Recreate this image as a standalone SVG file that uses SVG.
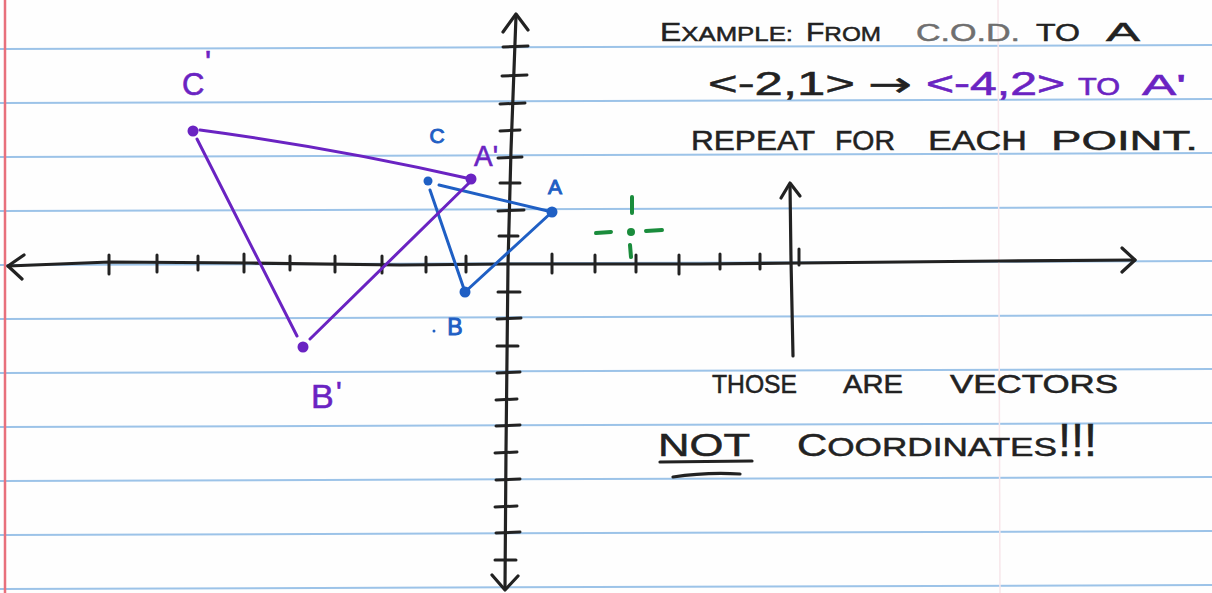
<svg xmlns="http://www.w3.org/2000/svg" width="1212" height="593" viewBox="0 0 1212 593">
<style>
.rule{stroke:#9cc3e8;stroke-width:2;fill:none}
.ink{stroke:#222;stroke-width:3.2;fill:none;stroke-linecap:round;stroke-linejoin:round}
.tick{stroke:#222;stroke-width:3;stroke-linecap:round}
.blue{stroke:#1f5fc4;stroke-width:3;fill:none;stroke-linecap:round}
.purple{stroke:#6a23c2;stroke-width:3;fill:none;stroke-linecap:round}
.green{stroke:#1a8c3c;stroke-width:4;fill:none;stroke-linecap:round}
.txt{font-family:"Liberation Sans","DejaVu Sans",sans-serif;fill:#222;stroke:#222;stroke-width:0.5}
.ptxt{font-family:"Liberation Sans","DejaVu Sans",sans-serif;fill:#6a23c2;stroke:#6a23c2;stroke-width:0.6}
.btxt{font-family:"Liberation Sans","DejaVu Sans",sans-serif;fill:#1f5fc4;stroke:#1f5fc4;stroke-width:1}
</style>
<g id="paper">
<rect width="1212" height="593" fill="#fefefe"/>
<line class="rule" x1="0" y1="49" x2="1212" y2="45"/>
<line class="rule" x1="0" y1="103" x2="1212" y2="99"/>
<line class="rule" x1="0" y1="157" x2="1212" y2="153"/>
<line class="rule" x1="0" y1="211" x2="1212" y2="207"/>
<line class="rule" x1="0" y1="265" x2="1212" y2="261"/>
<line class="rule" x1="0" y1="319" x2="1212" y2="315"/>
<line class="rule" x1="0" y1="373" x2="1212" y2="369"/>
<line class="rule" x1="0" y1="427" x2="1212" y2="423"/>
<line class="rule" x1="0" y1="481" x2="1212" y2="477"/>
<line class="rule" x1="0" y1="535" x2="1212" y2="531"/>
<line class="rule" x1="0" y1="589" x2="1212" y2="585"/>
<line x1="998" y1="0" x2="1000" y2="593" stroke="#f7e6ea" stroke-width="1.5"/>
<line x1="5" y1="0" x2="5" y2="593" stroke="#e8707c" stroke-width="2.5"/>
</g>
<g id="axes">
<path class="ink" d="M8,266 L110,262 L250,263 L400,265 L508,264 L700,264 L800,263 L1000,261 L1135,260"/>
<path class="ink" d="M24,255 L8,266 L22,279"/>
<path class="ink" d="M1122,248 L1135,260 L1122,272"/>
<path class="ink" d="M516,16 L511,150 L508,264 L506,450 L505,588"/>
<path class="ink" d="M503,32 L516,14 L528,30"/>
<path class="ink" d="M492,575 L505,590 L518,576"/>
<g id="x-ticks">
<line class="tick" x1="109" y1="255" x2="109" y2="274"/>
<line class="tick" x1="157" y1="255" x2="157" y2="272"/>
<line class="tick" x1="198" y1="256" x2="198" y2="270"/>
<line class="tick" x1="244" y1="254" x2="244" y2="272"/>
<line class="tick" x1="290" y1="256" x2="290" y2="270"/>
<line class="tick" x1="335" y1="256" x2="335" y2="272"/>
<line class="tick" x1="382" y1="256" x2="382" y2="273"/>
<line class="tick" x1="426" y1="257" x2="426" y2="272"/>
<line class="tick" x1="466" y1="256" x2="466" y2="272"/>
<line class="tick" x1="552" y1="254" x2="552" y2="273"/>
<line class="tick" x1="595" y1="255" x2="595" y2="272"/>
<line class="tick" x1="636" y1="255" x2="636" y2="272"/>
<line class="tick" x1="679" y1="255" x2="679" y2="274"/>
<line class="tick" x1="720" y1="254" x2="720" y2="269"/>
<line class="tick" x1="760" y1="254" x2="760" y2="269"/>
<line class="tick" x1="799" y1="249" x2="799" y2="265"/>
</g>
<g id="y-ticks">
<line class="tick" x1="503" y1="47" x2="528" y2="46"/>
<line class="tick" x1="502" y1="76" x2="527" y2="75"/>
<line class="tick" x1="500" y1="104" x2="525" y2="103"/>
<line class="tick" x1="500" y1="131" x2="520" y2="130"/>
<line class="tick" x1="498" y1="158" x2="522" y2="157"/>
<line class="tick" x1="500" y1="183" x2="520" y2="183"/>
<line class="tick" x1="498" y1="211" x2="524" y2="210"/>
<line class="tick" x1="499" y1="236" x2="518" y2="236"/>
<line class="tick" x1="498" y1="292" x2="520" y2="292"/>
<line class="tick" x1="497" y1="319" x2="521" y2="318"/>
<line class="tick" x1="497" y1="346" x2="518" y2="346"/>
<line class="tick" x1="497" y1="373" x2="520" y2="372"/>
<line class="tick" x1="496" y1="400" x2="517" y2="399"/>
<line class="tick" x1="496" y1="426" x2="520" y2="425"/>
<line class="tick" x1="495" y1="453" x2="517" y2="452"/>
<line class="tick" x1="496" y1="480" x2="520" y2="479"/>
<line class="tick" x1="495" y1="507" x2="517" y2="506"/>
<line class="tick" x1="496" y1="533" x2="520" y2="532"/>
<line class="tick" x1="495" y1="560" x2="516" y2="560"/>
</g>
<g id="small-axis">
<path class="ink" d="M793,356 L791,260 L790,184"/>
<path class="ink" d="M781,198 L790,183 L800,196"/>
</g>
</g>
<g id="connectors">
<path class="blue" d="M439,185 L552,212"/>
<path class="blue" d="M430,190 L465,292"/>
<path class="blue" d="M465,292 L552,212"/>
<path class="purple" d="M200,130 Q335,148 471,179"/>
<path class="purple" d="M197,139 L297,336"/>
<path class="purple" d="M310,339 L469,183"/>
</g>
<g id="point-A">
<circle cx="552" cy="212" r="5.5" fill="#1f5fc4"/>
<text class="btxt" x="555" y="194" font-size="21" text-anchor="middle">A</text>
</g>
<g id="point-B">
<circle cx="465" cy="292" r="5.5" fill="#1f5fc4"/>
<circle cx="434" cy="331" r="1.5" fill="#1f5fc4"/>
<text class="btxt" x="455" y="335" font-size="23" text-anchor="middle">B</text>
</g>
<g id="point-C">
<circle cx="428" cy="181" r="4.5" fill="#1f5fc4"/>
<text class="btxt" x="437" y="143" font-size="21" text-anchor="middle">C</text>
</g>
<g id="point-A-prime">
<circle cx="471" cy="179" r="5.5" fill="#6a23c2"/>
<text class="ptxt" x="474" y="166" font-size="29" textLength="24" lengthAdjust="spacingAndGlyphs">A'</text>
</g>
<g id="point-B-prime">
<circle cx="303" cy="347" r="5.5" fill="#6a23c2"/>
<text class="ptxt" x="311" y="408" font-size="34">B<tspan x="336" y="402" font-size="30">'</tspan></text>
</g>
<g id="point-C-prime">
<circle cx="193" cy="131" r="5.5" fill="#6a23c2"/>
<text class="ptxt" x="182" y="95" font-size="31">C<tspan x="205" y="73" font-size="32">'</tspan></text>
</g>
<g id="point-green">
<circle cx="631" cy="232" r="4" fill="#1a8c3c"/>
<path class="green" d="M632,197 L632,213"/>
<path class="green" d="M596,233 L611,232"/>
<path class="green" d="M646,231 L662,230"/>
<path class="green" d="M630,245 L631,257"/>
</g>
<g id="text-example">
<text class="txt" x="660" y="41" textLength="133" lengthAdjust="spacingAndGlyphs"><tspan font-size="26">E</tspan><tspan font-size="21">XAMPLE:</tspan></text>
<text class="txt" x="806" y="41" textLength="75" lengthAdjust="spacingAndGlyphs"><tspan font-size="26">F</tspan><tspan font-size="21">ROM</tspan></text>
<text class="txt" x="916" y="41" font-size="24" textLength="104" lengthAdjust="spacingAndGlyphs" style="fill:#6f6f6f;stroke:#6f6f6f">C.O.D.</text>
<text class="txt" x="1036" y="41" font-size="24" textLength="44" lengthAdjust="spacingAndGlyphs">TO</text>
<text class="txt" x="1106" y="41" font-size="25" textLength="34" lengthAdjust="spacingAndGlyphs">A</text>
</g>
<g id="text-vector">
<text class="txt" x="708" y="95" font-size="34" textLength="147" lengthAdjust="spacingAndGlyphs">&lt;-2,1&gt;</text>
<text class="txt" x="868" y="96" font-size="34" textLength="44" lengthAdjust="spacingAndGlyphs" style="font-family:'DejaVu Sans',sans-serif">→</text>
<text class="ptxt" x="926" y="95" font-size="34" textLength="139" lengthAdjust="spacingAndGlyphs">&lt;-4,2&gt;</text>
<text class="ptxt" x="1078" y="95" font-size="24" textLength="42" lengthAdjust="spacingAndGlyphs">TO</text>
<text class="ptxt" x="1142" y="95" font-size="30" textLength="44" lengthAdjust="spacingAndGlyphs">A'</text>
</g>
<g id="text-repeat">
<text class="txt" x="691" y="150" font-size="27" textLength="124" lengthAdjust="spacingAndGlyphs">REPEAT</text>
<text class="txt" x="835" y="150" font-size="27" textLength="60" lengthAdjust="spacingAndGlyphs">FOR</text>
<text class="txt" x="928" y="150" font-size="27" textLength="99" lengthAdjust="spacingAndGlyphs">EACH</text>
<text class="txt" x="1051" y="150" font-size="27" textLength="147" lengthAdjust="spacingAndGlyphs">POINT.</text>
</g>
<g id="text-those">
<text class="txt" x="712" y="393" font-size="25" textLength="85" lengthAdjust="spacingAndGlyphs">THOSE</text>
<text class="txt" x="843" y="393" font-size="25" textLength="60" lengthAdjust="spacingAndGlyphs">ARE</text>
<text class="txt" x="950" y="393" font-size="25" textLength="168" lengthAdjust="spacingAndGlyphs">VECTORS</text>
</g>
<g id="text-not">
<text class="txt" x="658" y="456" font-size="32" textLength="92" lengthAdjust="spacingAndGlyphs">NOT</text>
<path class="ink" d="M660,462 L752,461"/>
<path class="ink" d="M673,477 Q706,472 740,474"/>
<text class="txt" x="797" y="456" textLength="260" lengthAdjust="spacingAndGlyphs"><tspan font-size="31">C</tspan><tspan font-size="26">OORDINATES</tspan></text>
<text class="txt" x="1058" y="456" font-size="46" textLength="39" lengthAdjust="spacingAndGlyphs">!!!</text>
</g>
</svg>
